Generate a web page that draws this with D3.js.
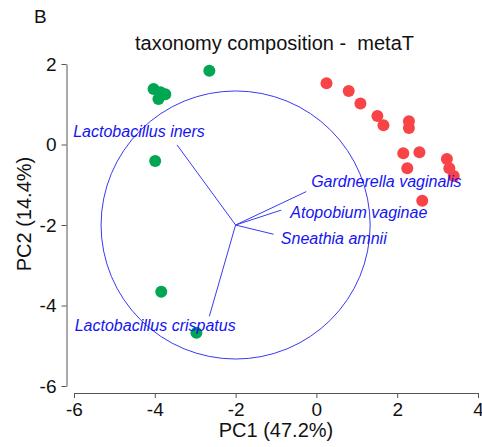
<!DOCTYPE html>
<html>
<head>
  <meta charset="utf-8">
  <title>taxonomy composition - metaT</title>
  <script src="https://cdn.jsdelivr.net/npm/d3@7"></script>
  <style>
    body { margin: 0; background: #fff; }
    text { font-family: "Liberation Sans", Arial, sans-serif; }
  </style>
</head>
<body>
  <script>
  // sample scores, group 1 (green)
  var greenPC1 = [-2.65, -4.03, -3.86, -3.74, -3.91, -3.99, -3.84, -2.97];
  var greenPC2 = [ 1.83,  1.38,  1.30,  1.25,  1.13, -0.41, -3.66, -4.68];

  // sample scores, group 2 (red)
  var redPC1 = [0.25, 0.80, 1.09, 1.51, 1.66, 2.29, 2.29, 2.15, 2.55, 2.25, 3.23, 3.29, 3.40, 2.62];
  var redPC2 = [1.52, 1.33, 1.02, 0.71, 0.48, 0.58, 0.41, -0.22, -0.19, -0.59, -0.36, -0.59, -0.78, -1.40];

  // loadings (arrow tips) and label spots
  var taxa   = ["Lactobacillus iners", "Gardnerella vaginalis", "Atopobium vaginae", "Sneathia amnii", "Lactobacillus crispatus"];
  var tipX   = [-3.45, -0.25, -0.87, -1.06, -2.65];
  var tipY   = [-0.01, -1.17, -1.63, -2.23, -4.27];
  var labX   = [-4.39,  1.73,  1.05,  0.43, -3.99];
  var labY   = [ 0.32, -0.91, -1.69, -2.33, -4.49];

  // origin and radius of the correlation circle
  var origin = [-2, -2];
  var radius = 3.33;

  var xTicks = [-6, -4, -2, 0, 2, 4];
  var yTicks = [-6, -4, -2, 0, 2];

  var breite = 482, hoehe = 447;

  var svg = d3.select("body").append("svg")
      .attr("width", breite)
      .attr("height", hoehe);

  var x = d3.scaleLinear().domain([-6, 4]).range([74, 478]);
  var y = d3.scaleLinear().domain([-6, 2]).range([386, 64]);

  var blau = "#3a3af2";

  // axes, R style (not touching)
  var xAxis = svg.append("g")
      .attr("transform", "translate(0,393)")
      .call(d3.axisBottom(x).tickValues(xTicks).tickSize(5).tickSizeOuter(0).tickPadding(5)
            .tickFormat(d3.format("d")));
  var yAxis = svg.append("g")
      .attr("transform", "translate(66.5,0)")
      .call(d3.axisLeft(y).tickValues(yTicks).tickSize(5).tickSizeOuter(0).tickPadding(5)
            .tickFormat(d3.format("d")));

  [xAxis, yAxis].forEach(function(a) {
    a.selectAll("path, line").attr("stroke", "#555");
    a.selectAll("text").attr("fill", "#111")
      .style("font-family", "'Liberation Sans', Arial, sans-serif")
      .style("font-size", "19px")
      .text(function(d) { return d < 0 ? "-" + Math.abs(d) : d; });
  });

  // correlation circle
  svg.append("ellipse")
      .attr("cx", x(origin[0]))
      .attr("cy", y(origin[1]))
      .attr("rx", x(origin[0] + radius) - x(origin[0]))
      .attr("ry", y(origin[1]) - y(origin[1] + radius))
      .attr("fill", "none")
      .attr("stroke", blau)
      .attr("stroke-width", 1);

  // loading arrows
  svg.selectAll("line.arrow")
      .data(taxa)
      .enter().append("line")
      .attr("class", "arrow")
      .attr("x1", x(origin[0]))
      .attr("y1", y(origin[1]))
      .attr("x2", function(d, i) { return x(tipX[i]); })
      .attr("y2", function(d, i) { return y(tipY[i]); })
      .attr("stroke", blau)
      .attr("stroke-width", 1);

  // points
  var punkte = greenPC1.map(function(v, i) { return {pc1: v, pc2: greenPC2[i], farbe: "#00a651"}; })
      .concat(redPC1.map(function(v, i) { return {pc1: v, pc2: redPC2[i], farbe: "#f94447"}; }));

  svg.selectAll("circle.punkt")
      .data(punkte)
      .enter().append("circle")
      .attr("class", "punkt")
      .attr("cx", function(d) { return x(d.pc1); })
      .attr("cy", function(d) { return y(d.pc2); })
      .attr("r", 6)
      .attr("fill", function(d) { return d.farbe; });

  // taxon labels
  svg.selectAll("text.taxon")
      .data(taxa)
      .enter().append("text")
      .attr("class", "taxon")
      .attr("x", function(d, i) { return x(labX[i]); })
      .attr("y", function(d, i) { return y(labY[i]); })
      .attr("dy", "0.35em")
      .attr("text-anchor", "middle")
      .attr("fill", "#1414f0")
      .style("font-size", "16px")
      .style("font-style", "italic")
      .text(function(d) { return d; });

  // titles
  svg.append("text")
      .attr("x", 34).attr("y", 23)
      .style("font-size", "19px")
      .attr("fill", "#111")
      .text("B");

  svg.append("text")
      .attr("x", 274.5).attr("y", 50)
      .attr("text-anchor", "middle")
      .style("font-size", "20px")
      .style("white-space", "pre")
      .attr("fill", "#111")
      .text("taxonomy composition -  metaT");

  svg.append("text")
      .attr("x", 276).attr("y", 437)
      .attr("text-anchor", "middle")
      .style("font-size", "20px")
      .attr("fill", "#111")
      .text("PC1 (47.2%)");

  svg.append("text")
      .attr("transform", "translate(31,214) rotate(-90)")
      .attr("text-anchor", "middle")
      .style("font-size", "20px")
      .attr("fill", "#111")
      .text("PC2 (14.4%)");
  </script>
</body>
</html>
